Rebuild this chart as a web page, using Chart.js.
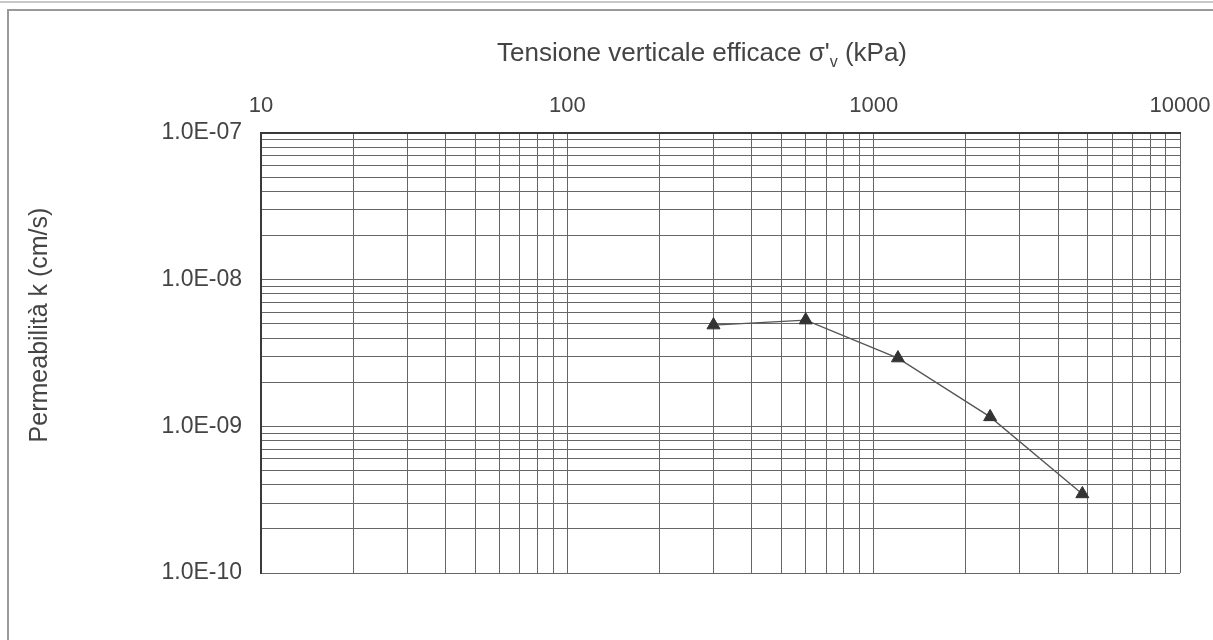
<!DOCTYPE html>
<html>
<head>
<meta charset="utf-8">
<script src="https://cdn.jsdelivr.net/npm/chart.js@4/dist/chart.umd.min.js"></script>
<style>
  body { margin: 0; background: #fff; }
  #wrap { position: relative; width: 1213px; height: 640px; overflow: hidden; }
  #topline { position: absolute; left: 0; top: 1px; width: 1213px; border-top: 2px solid #c8c8c8; }
  #frame { position: absolute; left: 7px; top: 9px; width: 1300px; height: 700px;
           border-top: 2px solid #9a9a9a; border-left: 2px solid #9a9a9a; }
  #chart { position: absolute; left: 0; top: 0; }
</style>
</head>
<body>
<div id="wrap">
  <div id="topline"></div>
  <div id="frame"></div>
  <canvas id="chart" width="1213" height="640"></canvas>
</div>
<script>
// tensione verticale efficace (kPa) e permeabilita (cm/s)
const stress = [300, 600, 1200, 2400, 4800];
const perm = [4.9e-9, 5.3e-9, 2.92e-9, 1.16e-9, 3.46e-10];

const xTitle = ["Tensione verticale efficace σ'", "v", " (kPa)"];
const yTitle = "Permeabilità k (cm/s)";

const xMin = 10, xMax = 10000;
const yMin = 1e-10, yMax = 1e-7;

const FONT = '"Liberation Sans", Arial, sans-serif';

// 1..9 x 10^n for every decade in range
function logTicks(min, max) {
    const out = [];
    for (let e = Math.round(Math.log10(min)); e < Math.round(Math.log10(max)); e++) {
        for (let k = 1; k < 10; k++) {
            out.push({ value: Number((k + 'e' + e)) });
        }
    }
    out.push({ value: max });
    return out;
}

function isDecade(v) {
    const l = Math.log10(v);
    return Math.abs(l - Math.round(l)) < 1e-9;
}

function sciLabel(v) {
    const e = Math.round(Math.log10(v));
    const sign = e < 0 ? '-' : '+';
    const abs = Math.abs(e);
    return '1.0E' + sign + (abs < 10 ? '0' + abs : abs);
}

const titles = {
    id: 'titles',
    afterDraw(chart) {
        const ctx = chart.ctx;
        ctx.save();
        ctx.fillStyle = '#444';
        ctx.textBaseline = 'middle';
        // x title with subscript v
        const big = '26px ' + FONT;
        const small = '16px ' + FONT;
        ctx.font = big;
        const w1 = ctx.measureText(xTitle[0]).width;
        const w3 = ctx.measureText(xTitle[2]).width;
        ctx.font = small;
        const w2 = ctx.measureText(xTitle[1]).width;
        let x = 702 - (w1 + w2 + w3) / 2;
        const y = 54;
        ctx.textAlign = 'left';
        ctx.font = big;
        ctx.fillText(xTitle[0], x, y);
        x += w1;
        ctx.font = small;
        ctx.fillText(xTitle[1], x, y + 9);
        x += w2;
        ctx.font = big;
        ctx.fillText(xTitle[2], x, y);

        // y title
        ctx.translate(40, 325);
        ctx.rotate(-Math.PI / 2);
        ctx.textAlign = 'center';
        ctx.font = '25px ' + FONT;
        ctx.fillText(yTitle, 0, 0);
        ctx.restore();
    }
};

const data = {
    datasets: [{
        label: 'k',
        data: stress.map((s, i) => ({ x: s, y: perm[i] })),
        borderColor: '#555',
        borderWidth: 1.3,
        backgroundColor: '#333',
        pointStyle: 'triangle',
        pointRadius: 7.5,
        pointBorderColor: '#333',
        pointBorderWidth: 1,
        showLine: true,
        tension: 0
    }]
};

const config = {
    type: 'scatter',
    data: data,
    options: {
        responsive: false,
        animation: false,
        layout: { padding: { left: 0, top: 0, right: 33, bottom: 67 } },
        plugins: {
            legend: { display: false },
            tooltip: { enabled: false }
        },
        scales: {
            x: {
                type: 'logarithmic',
                position: 'top',
                min: xMin,
                max: xMax,
                afterBuildTicks: (scale) => { scale.ticks = logTicks(xMin, xMax); },
                afterFit: (scale) => {
                    scale.height = 133;
                    scale.paddingLeft = 0;
                    scale.paddingRight = 0;
                },
                grid: { color: '#666', lineWidth: 1, drawTicks: false },
                border: { color: '#3a3a3a', width: 2 },
                ticks: {
                    autoSkip: false,
                    maxRotation: 0,
                    padding: 14,
                    color: '#444',
                    font: { family: FONT, size: 22 },
                    callback: (v) => isDecade(v) ? String(Math.round(v)) : ''
                }
            },
            y: {
                type: 'logarithmic',
                min: yMin,
                max: yMax,
                afterBuildTicks: (scale) => { scale.ticks = logTicks(yMin, yMax); },
                afterFit: (scale) => {
                    scale.width = 261;
                    scale.paddingTop = 0;
                    scale.paddingBottom = 0;
                },
                grid: { color: '#666', lineWidth: 1, drawTicks: false },
                border: { color: '#3a3a3a', width: 2 },
                ticks: {
                    autoSkip: false,
                    padding: 19,
                    color: '#444',
                    font: { family: FONT, size: 23 },
                    callback: (v) => isDecade(v) ? sciLabel(v) : ''
                }
            }
        }
    },
    plugins: [titles]
};

const myChart = new Chart(document.getElementById('chart'), config);
</script>
</body>
</html>
